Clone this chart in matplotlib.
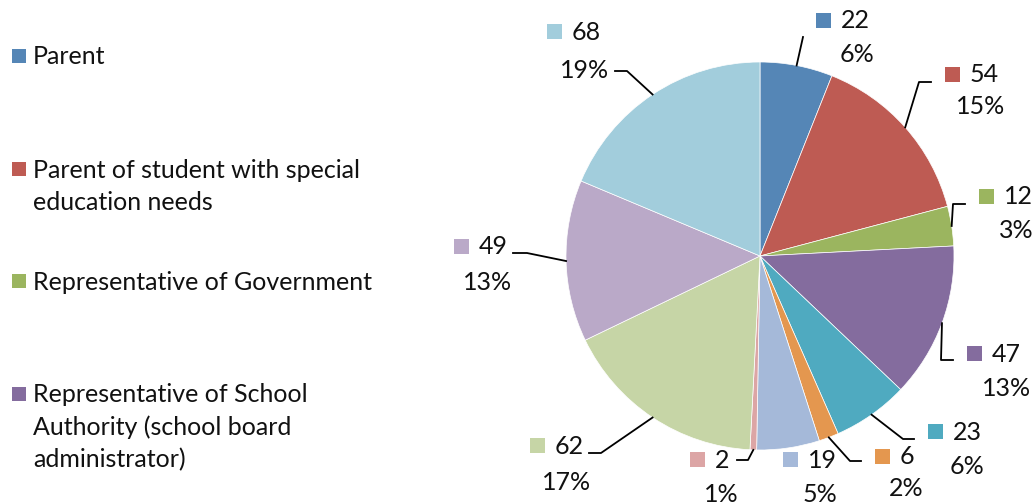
import numpy as np
import matplotlib
matplotlib.use("Agg")
import matplotlib.pyplot as plt
from matplotlib.patches import Rectangle

# slice values, clockwise from 12 o'clock
values = [22, 54, 12, 47, 23, 6, 19, 2, 62, 49, 68]
colors = ["#5586B6", "#BE5B53", "#9BB55F", "#846C9E", "#4FAAC0", "#E4974F",
          "#A5B9D9", "#DCA5A5", "#C6D5A6", "#BAA9C8", "#A2CDDC"]
# only the first four legend entries fit in the picture
legend_labels = ["Parent",
                 "Parent of student with special\neducation needs",
                 "Representative of Government",
                 "Representative of School\nAuthority (school board\nadministrator)"]

W, H = 1034, 503
CX, CY, R = 760, 256, 194  # pie centre / radius in pixels

# label layout in pixels: marker left, marker top, percent centre x, percent centre y
label_pos = [(816, 13, 857, 54), (945, 67, 981, 107), (979, 189, 1016, 231),
             (967, 346, 1007, 388), (928, 424, 967, 466), (875, 449, 906, 489),
             (783, 452, 820, 494), (690, 452, 721, 494), (530, 438, 567, 482),
             (454, 239, 488, 282), (547, 24, 585, 70)]
# leader elbows / ends (pixels), None = no leader
leaders = [[(803, 37)], [(919, 82), (931, 82)], [(953, 204), (965, 204)],
           [(941, 360), (953, 360)], [(903, 439), (914, 439)],
           [(850, 461), (861, 461)], None, [(748, 460), (737, 460)],
           [(601, 453), (589, 453)], [(527, 253), (513, 253)],
           [(627, 71), (615, 71)]]

LBL_FONT = "Lato"

fig = plt.figure(figsize=(W / 100, H / 100), dpi=100)
ax = fig.add_axes([(CX - R) / W, (H - CY - R) / H, 2 * R / W, 2 * R / H])
wedges, _ = ax.pie(values, colors=colors, startangle=90, counterclock=False,
                   radius=1, wedgeprops=dict(edgecolor="white", linewidth=0.5))
ax.set_xlim(-1, 1)
ax.set_ylim(-1, 1)
ax.axis("off")


def to_data(p):
    return (p[0] - CX) / R, (CY - p[1]) / R


def fx(x):
    return x / W


def fy(y):
    return 1 - y / H


total = sum(values)
for i, w in enumerate(wedges):
    mx, my, pcx, pcy = label_pos[i]
    fig.add_artist(Rectangle((fx(mx), fy(my + 15)), 15 / W, 15 / H,
                             transform=fig.transFigure, color=colors[i], lw=0))
    fig.text(fx(mx + 25), fy(my + 8), str(values[i]), fontsize=18,
             family=LBL_FONT, va="center", ha="left", color="#111111")
    pct = int(round(values[i] / total * 100))
    fig.text(fx(pcx), fy(pcy), f"{pct}%", fontsize=18, family=LBL_FONT,
             va="center", ha="center", color="#111111")
    if leaders[i]:
        mid = np.deg2rad((w.theta1 + w.theta2) / 2)
        pts = [(np.cos(mid), np.sin(mid))] + [to_data(p) for p in leaders[i]]
        xs, ys = zip(*pts)
        ax.plot(xs, ys, color="black", lw=1.3, clip_on=False)

# legend (clipped by the picture after the fourth entry)
legend_rows = [57, 170, 282, 395]
for i, lab in enumerate(legend_labels):
    y = legend_rows[i]
    fig.add_artist(Rectangle((fx(12), fy(y + 6)), 14 / W, 14 / H,
                             transform=fig.transFigure, color=colors[i], lw=0))
    for j, line in enumerate(lab.split("\n")):
        fig.text(fx(33), fy(y + j * 32.5), line, fontsize=18, family=LBL_FONT,
                 va="center", ha="left", color="#111111")

fig.savefig("out.png", dpi=100)
